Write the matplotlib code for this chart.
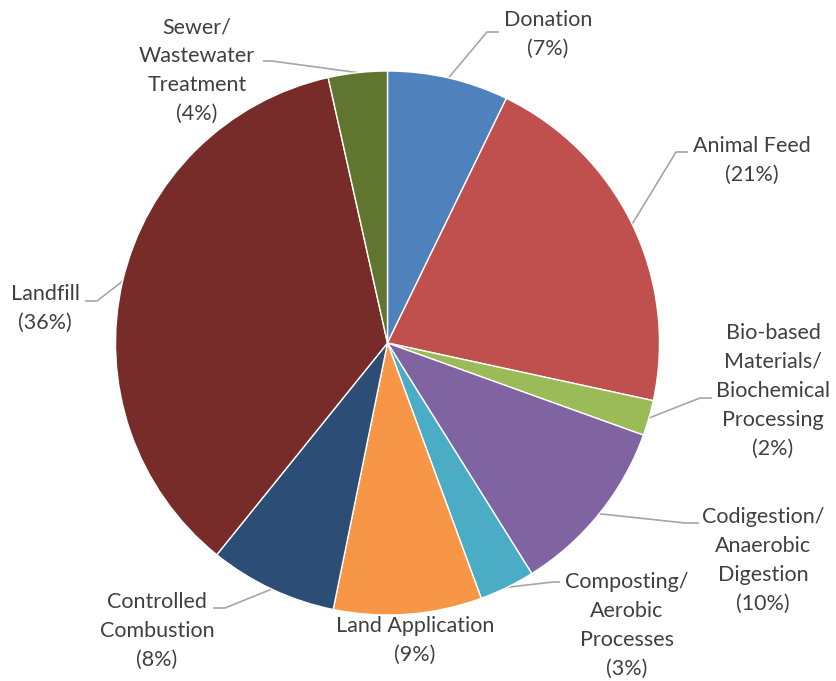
#!/usr/bin/env python3

"""Pie chart of food waste destinations with Excel-style leader lines"""

import numpy as np
import matplotlib.pyplot as plt

categories = ['Donation', 'Animal Feed',
              'Bio-based\nMaterials/\nBiochemical\nProcessing',
              'Codigestion/\nAnaerobic\nDigestion',
              'Composting/\nAerobic\nProcesses',
              'Land Application', 'Controlled\nCombustion',
              'Landfill', 'Sewer/\nWastewater\nTreatment']
shares = [7.2, 21.2, 2.1, 10.6, 3.3, 8.8, 7.6, 35.7, 3.5]
pct_labels = ['7%', '21%', '2%', '10%', '3%', '9%', '8%', '36%', '4%']

colors = ['#4F81BD', '#C0504D', '#9BBB59', '#8064A2', '#4BACC6',
          '#F79646', '#2C4D75', '#772C2A', '#5F7530']

# layout in pixel units (origin top-left)
center = (387.5, 343)
radius = 272
# label centre (x, y of first line), leader elbow, leader end (None = no leader)
label_pos = [(548, 20), (752, 146), (773, 333), (763, 517), (627, 582),
             (415, 626), (157, 602), (45, 294), (197, 27)]
elbows = [(487, 32), (676, 152), (700, 398), (685, 523), (553, 582),
          None, (225, 608), (97, 301), (272, 61)]
ends = [(499, 32), (688, 152), (712, 398), (699, 523), (560, 582),
        None, (213, 608), (85, 301), (263, 61)]

TEXT = '#404040'
LINE = '#A6A6A6'
FONT = 'Lato'
SIZE = 15.5
STEP = 29


def main():
    fig = plt.figure(figsize=(8.36, 6.81), dpi=100)
    ax = fig.add_axes([0, 0, 1, 1])

    wedges, _ = ax.pie(shares, colors=colors, startangle=-90, counterclock=True,
                       center=center, radius=radius,
                       wedgeprops=dict(edgecolor='white', linewidth=1.0))
    ax.set_xlim(0, 836)
    ax.set_ylim(681, 0)
    ax.set_aspect('equal')
    ax.axis('off')

    for w, name, pct, pos, elb, end in zip(wedges, categories, pct_labels,
                                           label_pos, elbows, ends):
        lines = name.split('\n') + [f'({pct})']
        for i, ln in enumerate(lines):
            ax.text(pos[0], pos[1] + i * STEP, ln, ha='center', va='center',
                    color=TEXT, fontsize=SIZE, family=FONT)
        if elb is None:
            continue
        mid = np.deg2rad((w.theta1 + w.theta2) / 2)
        sx = center[0] + radius * np.cos(mid)
        sy = center[1] + radius * np.sin(mid)
        ax.plot([sx, elb[0], end[0]], [sy, elb[1], end[1]],
                color=LINE, lw=1.2, solid_capstyle='butt', zorder=0.5)

    fig.savefig('out.png', dpi=100)


if __name__ == '__main__':
    main()
